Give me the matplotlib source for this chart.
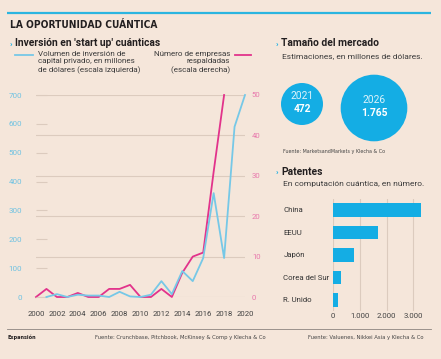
import matplotlib
matplotlib.use("Agg")
import matplotlib.pyplot as plt
from matplotlib.patches import Circle

# -------------------------------
# Data
# -------------------------------
years = list(range(2000, 2021))
# private capital invested, millions of dollars (left scale)
inversion = [None, 0, 10, 0, 8, 5, 5, 0, 18, 2, 0, 8, 55, 10, 90, 55, 135, 360, 135, 590, 700]
# number of backed companies (right scale)
empresas = [0, 2, 0, 0, 1, 0, 0, 2, 2, 3, 0, 0, 2, 0, 6, 10, 11, 31, 50, None, None]

mercado_anios = ["2021", "2026"]
mercado_valores = [472, 1765]
mercado_etiquetas = ["472", "1.765"]

paises = ["China", "EEUU", "Japón", "Corea del Sur", "R. Unido"]
patentes = [3270, 1690, 790, 290, 160]
patentes_ticks = [0, 1000, 2000, 3000]
patentes_ticklabels = ["0", "1.000", "2.000", "3.000"]

# -------------------------------
# Styles
# -------------------------------
BG = "#F5E6DA"
CYAN = "#14ADE4"
LBLUE = "#76C8E7"
PINK = "#E2338B"
PINK_TXT = "#E878AC"
BLUE_TXT = "#6FC2E2"
DARK = "#231F20"
GRID = "#DCCBBE"
plt.rcParams["font.family"] = ["Roboto", "DejaVu Sans"]

W, H = 441, 359
fig = plt.figure(figsize=(W / 100, H / 100), dpi=100, facecolor=BG)

# full-figure overlay in pixel units
ov = fig.add_axes([0, 0, 1, 1], zorder=0)
ov.set_xlim(0, W)
ov.set_ylim(H, 0)
ov.axis("off")


def ax_rect(x0, y0, x1, y1):
    return [x0 / W, 1 - y1 / H, (x1 - x0) / W, (y1 - y0) / H]


# header
ov.plot([7, 431], [13, 13], color="#2BB5E0", lw=1.6, solid_capstyle="butt")
ov.text(10, 25, "LA OPORTUNIDAD CUÁNTICA", family=["DejaVu Sans"], fontstretch="condensed",
        weight="bold", fontsize=7.3, color=DARK, va="center")

# section heads
for x, y, s in [(10, 43, "Inversión en 'start up' cuánticas"),
                (276, 43, "Tamaño del mercado"),
                (276, 172, "Patentes")]:
    ov.text(x, y, "›", color=CYAN, fontsize=6, weight="bold", va="center")
    ov.text(x + 5, y, s, weight="bold", fontsize=7.4, color=DARK, va="center")

# legend of line chart
ov.plot([15, 33], [54.5, 54.5], color=LBLUE, lw=1.3)
ov.text(38, 51, "Volumen de inversión de\ncapital privado, en millones\nde dólares (escala izquierda)",
        fontsize=5.8, color="#3b3b3b", va="top", linespacing=1.3)
ov.plot([235, 251], [54.5, 54.5], color=PINK, lw=1.3)
ov.text(230, 51, "Número de empresas\nrespaldadas\n(escala derecha)",
        fontsize=5.8, color="#3b3b3b", va="top", ha="right", multialignment="right", linespacing=1.3)

# -------------------------------
# Line chart with two scales
# -------------------------------
ax = fig.add_axes(ax_rect(36, 95, 245, 297), zorder=3)
ax.patch.set_alpha(0)
ax2 = ax.twinx()
ax2.patch.set_alpha(0)
ax2.set_zorder(2)

ax.set_xlim(2000, 2020)
ax.set_ylim(0, 700)
ax2.set_ylim(0, 50)

for a in (ax, ax2):
    for sp in a.spines.values():
        sp.set_visible(False)

ax2.set_yticks(range(0, 51, 10))
ax2.grid(axis="y", color=GRID, lw=0.8)
ax2.tick_params(axis="y", length=0, pad=5, labelsize=5.6, labelcolor=PINK_TXT)
ax2.set_axisbelow(True)

ax.set_yticks(range(0, 701, 100))
ax.tick_params(axis="y", direction="in", length=8, width=0.8, color=GRID, pad=10,
               labelsize=5.8, labelcolor=BLUE_TXT)
ax.set_xticks(range(2000, 2021, 2))
ax.tick_params(axis="x", length=0, pad=10, labelsize=5.6, labelcolor="#444")

inv_x = [y for y, v in zip(years, inversion) if v is not None]
inv_y = [v for v in inversion if v is not None]
emp_x = [y for y, v in zip(years, empresas) if v is not None]
emp_y = [v for v in empresas if v is not None]
ax2.plot(emp_x, emp_y, color=PINK, lw=1.3, clip_on=False, zorder=3)
ax.plot(inv_x, inv_y, color=LBLUE, lw=1.3, clip_on=False, zorder=4)

# -------------------------------
# Market size circles
# -------------------------------
ov.text(282, 56, "Estimaciones, en millones de dólares.", fontsize=6.0, color="#3b3b3b", va="center")
centros = [(302, 104), (374, 108)]
for (cx, cy), anio, val, lab in zip(centros, mercado_anios, mercado_valores, mercado_etiquetas):
    r = 21 * (val / mercado_valores[0]) ** 0.35
    ov.add_patch(Circle((cx, cy), r, color=CYAN, lw=0))
    ov.text(cx, cy - 8, anio, color="white", fontsize=7.4, ha="center", va="center", alpha=0.85)
    ov.text(cx, cy + 4.5, lab, color="white", fontsize=7.4, weight="bold", ha="center", va="center")
ov.text(283, 152, "Fuente: MarketsandMarkets y Klecha & Co", family=["DejaVu Sans"],
        fontstretch="condensed", fontsize=3.9, color="#444", va="center")

# -------------------------------
# Patents bar chart
# -------------------------------
ov.text(283, 184, "En computación cuántica, en número.", fontsize=6.0, color="#3b3b3b", va="center")
bx = fig.add_axes(ax_rect(333.3, 198.75, 428, 311.25), zorder=2)
bx.patch.set_alpha(0)
pos = list(range(len(paises)))
bx.barh(pos, patentes, height=0.58, color=CYAN, zorder=3)
bx.set_ylim(len(paises) - 0.5, -0.5)
bx.set_xlim(0, 3550)
bx.set_yticks(pos)
bx.set_yticklabels(paises)
for t in bx.get_yticklabels():
    t.set_ha("left")
bx.tick_params(axis="y", length=0, pad=36, labelsize=5.6, labelcolor="#333")
bx.set_xticks(patentes_ticks)
bx.set_xticklabels(patentes_ticklabels)
bx.tick_params(axis="x", length=0, pad=1, labelsize=5.6, labelcolor="#444")
bx.grid(axis="x", color=GRID, lw=0.8)
bx.set_axisbelow(True)
for sp in bx.spines.values():
    sp.set_visible(False)

# -------------------------------
# Footer
# -------------------------------
ov.plot([7, 431], [329, 329], color="#8C8580", lw=0.6)
ov.text(8, 337, "Expansión", weight="bold", family=["DejaVu Sans"], fontstretch="condensed",
        fontsize=4, color=DARK, va="center")
ov.text(95, 337, "Fuente: Crunchbase, Pitchbook, McKinsey & Comp y Klecha & Co", family=["DejaVu Sans"],
        fontstretch="condensed", fontsize=4.2, color="#444", va="center")
ov.text(423, 337, "Fuente: Valuenes, Nikkei Asia y Klecha & Co", family=["DejaVu Sans"],
        fontstretch="condensed", fontsize=4.2, color="#444", va="center", ha="right")

fig.savefig("out.png", dpi=100, facecolor=BG)
